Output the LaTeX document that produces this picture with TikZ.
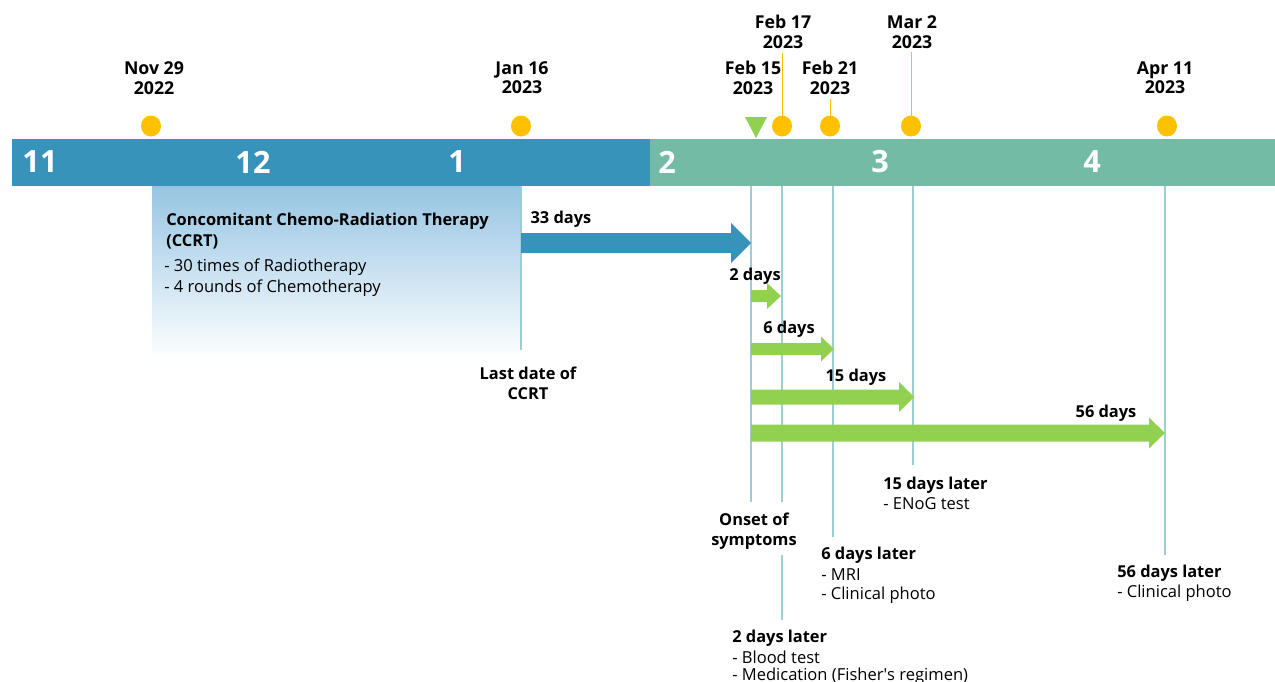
\documentclass[tikz,border=0pt]{standalone}
\usepackage{fontspec}
\setmainfont{Open Sans}
\definecolor{barblue}{RGB}{55,147,185}
\definecolor{bargreen}{RGB}{116,187,165}
\definecolor{dotyellow}{RGB}{255,192,0}
\definecolor{arrgreen}{RGB}{146,208,80}
\definecolor{vline}{RGB}{160,204,214}
\definecolor{boxblue}{RGB}{150,197,227}
\newcommand{\fatarrow}[7]{\fill[#1] (#2,#5-#6) -- (#3,#5-#6) -- (#3,#5-#7) -- (#4,#5) -- (#3,#5+#7) -- (#3,#5+#6) -- (#2,#5+#6) -- cycle;}
\begin{document}
\begin{tikzpicture}[x=0.75pt,y=-0.75pt,
  month/.style={text=white,font=\fontsize{23}{24}\selectfont\bfseries,inner sep=0pt},
  datelab/.style={font=\fontsize{13.3}{14.5}\selectfont\bfseries,align=center,inner sep=0pt},
  botlab/.style={font=\fontsize{12.3}{15}\selectfont\bfseries,align=center,inner sep=0pt},
  bold/.style={font=\fontsize{12.3}{15}\selectfont\bfseries,inner sep=0pt},
  plain/.style={font=\fontsize{12.4}{15}\selectfont,inner sep=0pt},
  vl/.style={draw=vline,line width=0.8pt},
  lead/.style={draw=dotyellow,line width=0.7pt}]
\useasboundingbox (0,0) rectangle (1275,682);
% CCRT shaded box
\shade[top color=boxblue,bottom color=white] (152,186) rectangle (521,360);
% bars
\fill[barblue] (12,139) rectangle (650,186);
\fill[bargreen] (650,139) rectangle (1275,186);
\node[month] (m11) at (40,162) {11};
\node[month] (m12) at (253,162) {12};
\node[month] (m1) at (457,162) {1};
\node[month] (m2) at (667,162) {2};
\node[month] (m3) at (880,162) {3};
\node[month] (m4) at (1092,162) {4};
% dots
\fill[dotyellow] (151,126) ellipse [x radius=10,y radius=10.5];
\fill[dotyellow] (521,126) ellipse [x radius=10,y radius=10.5];
\fill[dotyellow] (782,126) ellipse [x radius=10,y radius=10.5];
\fill[dotyellow] (830,126) ellipse [x radius=10,y radius=10.5];
\fill[dotyellow] (911,126) ellipse [x radius=10,y radius=10.5];
\fill[dotyellow] (1167,126) ellipse [x radius=10,y radius=10.5];
\coordinate (d17) at (782,116);
\coordinate (d21) at (830,116);
\coordinate (dm2) at (911,116);
\fill[arrgreen] (745,117) -- (767,117) -- (756,138) -- cycle;
% date labels
\node[datelab] (nov29) at (154,78) {Nov 29\\2022};
\node[datelab] (jan16) at (522,78) {Jan 16\\2023};
\node[datelab] (feb15) at (753,78) {Feb 15\\2023};
\node[datelab] (feb17) at (783,32) {Feb 17\\2023};
\node[datelab] (feb21) at (830,78) {Feb 21\\2023};
\node[datelab] (mar2) at (912,32) {Mar 2\\2023};
\node[datelab] (apr11) at (1165,78) {Apr 11\\2023};
\draw[lead] (feb17.south -| d17) ++(0,4) -- (d17);
\draw[lead] (feb21.south -| d21) ++(0,4) -- (d21);
\draw[lead] (mar2.south -| dm2) ++(0,4) -- (dm2);
% CCRT text
\node[bold,anchor=west] (ccrt1) at (166,221) {Concomitant Chemo-Radiation Therapy};
\node[bold,anchor=west] (ccrt2) at (166,242) {(CCRT)};
\node[plain,anchor=west] (ccrt3) at (164,267) {- 30 times of Radiotherapy};
\node[plain,anchor=west] (ccrt4) at (164,288) {- 4 rounds of Chemotherapy};
% bottom labels
\node[botlab] (last) at (528,383) {Last date of\\CCRT};
\node[botlab] (onset) at (754,531) {Onset of\\symptoms};
\node[bold,anchor=west] (l15) at (883,485) {15 days later};
\node[plain,anchor=west] (l15a) at (883,504) {- ENoG test};
\node[bold,anchor=west] (l6) at (821,555) {6 days later};
\node[plain,anchor=west] (l6a) at (821,575) {- MRI};
\node[plain,anchor=west] (l6b) at (821,595) {- Clinical photo};
\node[bold,anchor=west] (l56) at (1117,573) {56 days later};
\node[plain,anchor=west] (l56a) at (1117,593) {- Clinical photo};
\node[bold,anchor=west] (l2) at (732,638) {2 days later};
\node[plain,anchor=west] (l2a) at (732,657) {- Blood test};
\node[plain,anchor=west] (l2b) at (732,676) {- Medication (Fisher\textquotesingle s regimen)};
% vertical lines
\coordinate (v1top) at (521,186); \coordinate (v1bot) at (521,350);
\coordinate (v2top) at (751,186); \coordinate (v2bot) at (751,502);
\coordinate (v3top) at (782,186); \coordinate (v3mid) at (782,502);
\coordinate (v3b) at (782,555); \coordinate (v3bot) at (782,620);
\coordinate (v4top) at (833,186); \coordinate (v4bot) at (833,537);
\coordinate (v5top) at (913,186); \coordinate (v5bot) at (913,465);
\coordinate (v6top) at (1165,186); \coordinate (v6bot) at (1165,555);
\draw[vl] (v1top) -- (v1bot);
\draw[vl] (v2top) -- (v2bot);
\draw[vl] (v3top) -- (v3mid);
\draw[vl] (v3b) -- (v3bot);
\draw[vl] (v4top) -- (v4bot);
\draw[vl] (v5top) -- (v5bot);
\draw[vl] (v6top) -- (v6bot);
% arrows
\fatarrow{barblue}{521}{731}{751}{243}{10}{20}
\fatarrow{arrgreen}{751}{767}{781}{296}{6}{13}
\fatarrow{arrgreen}{751}{821}{834}{349}{6}{12.5}
\fatarrow{arrgreen}{751}{899}{914}{397}{7.5}{15}
\fatarrow{arrgreen}{751}{1149}{1165}{433}{8.5}{15.5}
\node[bold] (a33) at (561,219) {33 days};
\node[bold] (a2) at (755,276) {2 days};
\node[bold] (a6) at (789,329) {6 days};
\node[bold] (a15) at (856,377) {15 days};
\node[bold] (a56) at (1106,413) {56 days};
\end{tikzpicture}
\end{document}
